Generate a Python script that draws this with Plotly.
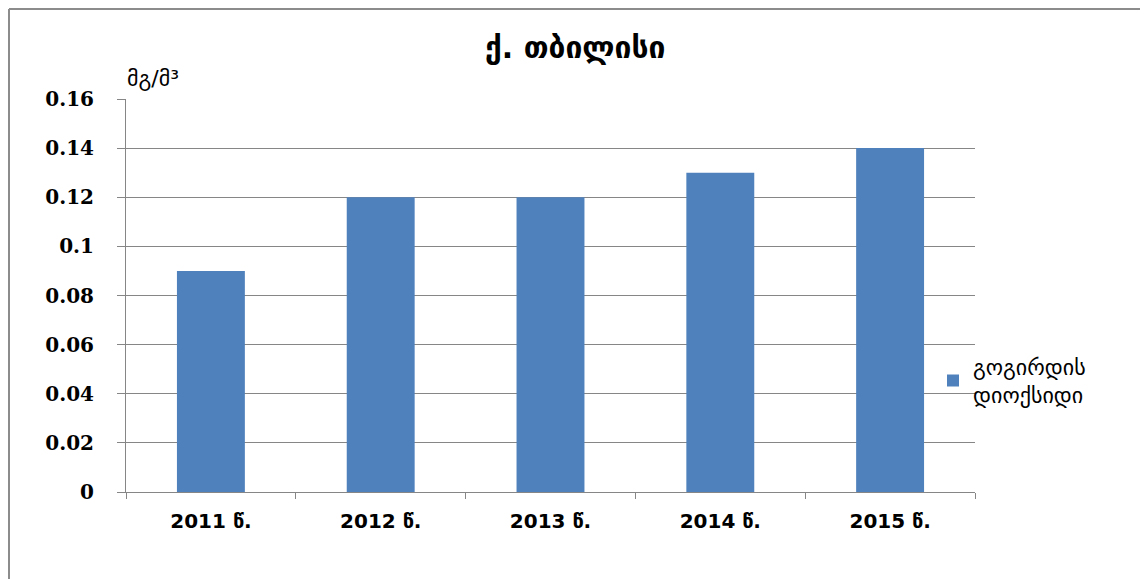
import plotly.graph_objects as go

categories = ["2011 წ.", "2012 წ.", "2013 წ.", "2014 წ.", "2015 წ."]
values = [0.09, 0.12, 0.12, 0.13, 0.14]
series_name = "გოგირდის<br>დიოქსიდი"
title_text = "ქ. თბილისი"
unit_text = "მგ/მ³"
y_ticks = [0, 0.02, 0.04, 0.06, 0.08, 0.1, 0.12, 0.14, 0.16]
y_tick_text = ["0", "0.02", "0.04", "0.06", "0.08", "0.1", "0.12", "0.14", "0.16"]

OFF = 8  # page body margin
W, H = 1148 - OFF, 579 - OFF
L, T = 126 - OFF, 99 - OFF
pw, ph = 849, 393
R, B = W - L - pw, H - T - ph

def px(x):
    return (x - OFF - L) / pw

def py(y):
    return (T + ph - (y - OFF)) / ph

fig = go.Figure()
fig.add_trace(go.Bar(
    x=categories, y=values, name=series_name,
    marker=dict(color="#4F81BD", line=dict(width=0)),
    width=0.4, showlegend=True,
))

fig.update_layout(
    width=W, height=H,
    margin=dict(l=L, r=R, t=T, b=B, autoexpand=False),
    paper_bgcolor="white", plot_bgcolor="white",
    showlegend=True,
    legend=dict(x=px(933), y=py(381), xanchor="left", yanchor="middle",
                font=dict(family="DejaVu Sans", size=22, color="#000000"),
                bgcolor="rgba(0,0,0,0)", itemwidth=30, tracegroupgap=0),
    xaxis=dict(
        type="category", showgrid=False, showline=True, linecolor="#868686", linewidth=1,
        ticks="outside", tickson="boundaries", ticklen=6, tickcolor="#868686",
        ticklabelstandoff=11,
        tickfont=dict(family="DejaVu Sans", size=20, color="#000000", weight="bold"),
        range=[-0.5, 4.5],
    ),
    yaxis=dict(
        range=[0, 0.16], tickvals=y_ticks, ticktext=y_tick_text,
        showgrid=True, gridcolor="#868686", gridwidth=1,
        showline=True, linecolor="#868686", linewidth=1,
        ticks="outside", ticklen=8, tickcolor="#868686",
        ticklabelstandoff=19,
        tickfont=dict(family="DejaVu Serif", size=20, color="#000000", weight="bold"),
        zeroline=False,
    ),
    annotations=[
        dict(text=title_text, x=px(575), y=py(48), xref="paper", yref="paper",
             showarrow=False, xanchor="center", yanchor="middle",
             font=dict(family="DejaVu Sans", size=30, color="#000000", weight="bold")),
        dict(text=unit_text, x=px(125), y=py(78), xref="paper", yref="paper",
             showarrow=False, xanchor="left", yanchor="middle",
             font=dict(family="DejaVu Sans", size=22, color="#000000")),
    ],
    shapes=[
        dict(type="line", xref="paper", yref="paper",
             x0=px(9), x1=px(9), y0=py(579), y1=py(9),
             line=dict(color="#8c8c8c", width=2)),
        dict(type="line", xref="paper", yref="paper",
             x0=px(9), x1=px(1148), y0=py(9), y1=py(9),
             line=dict(color="#8c8c8c", width=2)),
    ],
)

fig.write_html("out.html")
